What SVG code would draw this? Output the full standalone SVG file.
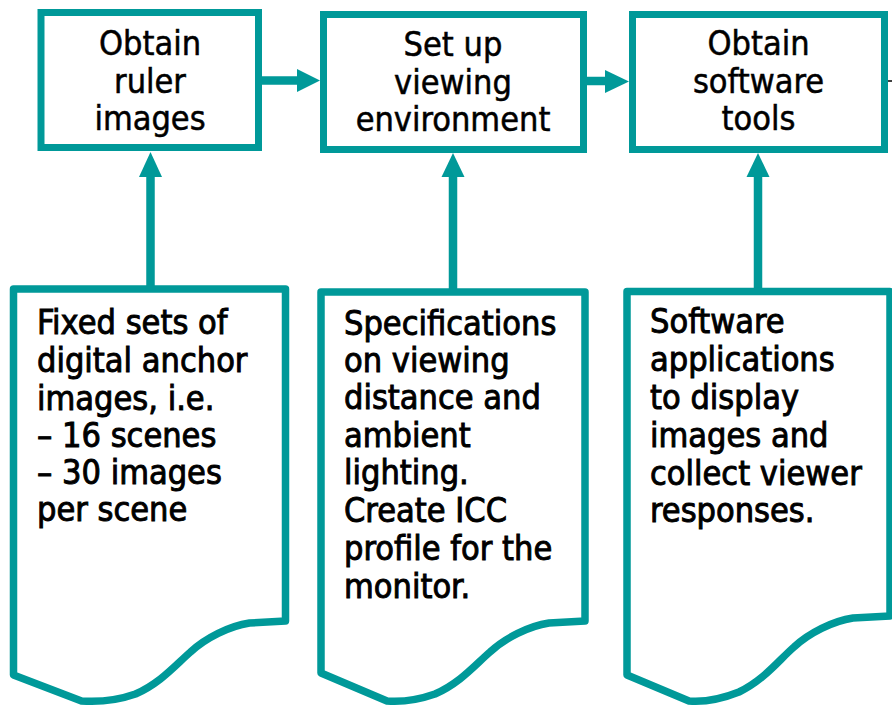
<svg xmlns="http://www.w3.org/2000/svg" width="892" height="706" viewBox="0 0 892 706">
<style>
.box{fill:#fff;stroke:#009999;stroke-width:7}
.doc{fill:#fff;stroke:#009999;stroke-width:7.5;stroke-linejoin:round}
.t{font-family:"DejaVu Sans Condensed","DejaVu Sans",sans-serif;font-size:34px;fill:#000;stroke:#000;stroke-width:0.5}
.b{stroke-width:0.9}
.c{text-anchor:middle}
.shaft{stroke:#009999;stroke-width:8.5;fill:none}
.head{fill:#009999}
</style>
<rect width="892" height="706" fill="#fff"/>
<g id="connectors">
<line class="shaft" x1="262" y1="80.5" x2="298" y2="80.5"/>
<polygon class="head" points="297,69 320,80.5 297,92"/>
<line class="shaft" x1="587" y1="81" x2="606" y2="81"/>
<polygon class="head" points="605,70 629,81.5 605,93"/>
<line class="shaft" x1="150.5" y1="289" x2="150.5" y2="175"/>
<polygon class="head" points="139,177 150.5,152 162,177"/>
<line class="shaft" x1="453" y1="292" x2="453" y2="175"/>
<polygon class="head" points="441.5,177 453,153 464.5,177"/>
<line class="shaft" x1="758" y1="291" x2="758" y2="175"/>
<polygon class="head" points="746.5,177 758,153 769.5,177"/>
<line x1="883" y1="81" x2="892" y2="81" stroke="#000" stroke-width="1.5"/>
</g>
<g id="n1">
<rect class="box" x="41" y="12.5" width="217.5" height="135"/>
<text class="t c" x="150" y="55">Obtain</text>
<text class="t c" x="150" y="93">ruler</text>
<text class="t c" x="150" y="130">images</text>
</g>
<g id="n2">
<rect class="box" x="323.5" y="14.5" width="260" height="135"/>
<text class="t c" x="453" y="56">Set up</text>
<text class="t c" x="453" y="94">viewing</text>
<text class="t c" x="453" y="131">environment</text>
</g>
<g id="n3">
<rect class="box" x="632.5" y="14.5" width="252" height="135"/>
<text class="t c" x="758.5" y="55">Obtain</text>
<text class="t c" x="758.5" y="93">software</text>
<text class="t c" x="758.5" y="130">tools</text>
</g>
<g id="d1">
<path class="doc" d="M13.5,289 H285.5 V621 L249.5,623 C229.5,626 205.5,638 190.5,652 C175.5,665 160.5,683 135.5,694 C115.5,701 95.5,702 81.5,701 L13.5,675 Z"/>
<text class="t b" x="37" y="334">Fixed sets of</text>
<text class="t b" x="37" y="372">digital anchor</text>
<text class="t b" x="37" y="410">images, i.e.</text>
<text class="t b" x="37" y="447">– 16 scenes</text>
<text class="t b" x="37" y="484">– 30 images</text>
<text class="t b" x="37" y="521">per scene</text>
</g>
<g id="d2">
<path class="doc" d="M321,292 H585 V621 L549,623 C529,626 505,638 490,652 C475,665 460,683 435,694 C415,701 400,702 387,701 L321,673 Z"/>
<text class="t b" x="344" y="335">Specifications</text>
<text class="t b" x="344" y="372">on viewing</text>
<text class="t b" x="344" y="409">distance and</text>
<text class="t b" x="344" y="447">ambient</text>
<text class="t b" x="344" y="484">lighting.</text>
<text class="t b" x="344" y="522">Create ICC</text>
<text class="t b" x="344" y="560">profile for the</text>
<text class="t b" x="344" y="598">monitor.</text>
</g>
<g id="d3">
<path class="doc" d="M627,291.5 H890 V616 L853,618 C833,621 809,633 794,647 C779,660 764,680 739,692 C719,700 702,702 689,701 L627,675 Z"/>
<text class="t b" x="650" y="333">Software</text>
<text class="t b" x="650" y="371">applications</text>
<text class="t b" x="650" y="409">to display</text>
<text class="t b" x="650" y="447">images and</text>
<text class="t b" x="650" y="485">collect viewer</text>
<text class="t b" x="650" y="522">responses.</text>
</g>
</svg>
